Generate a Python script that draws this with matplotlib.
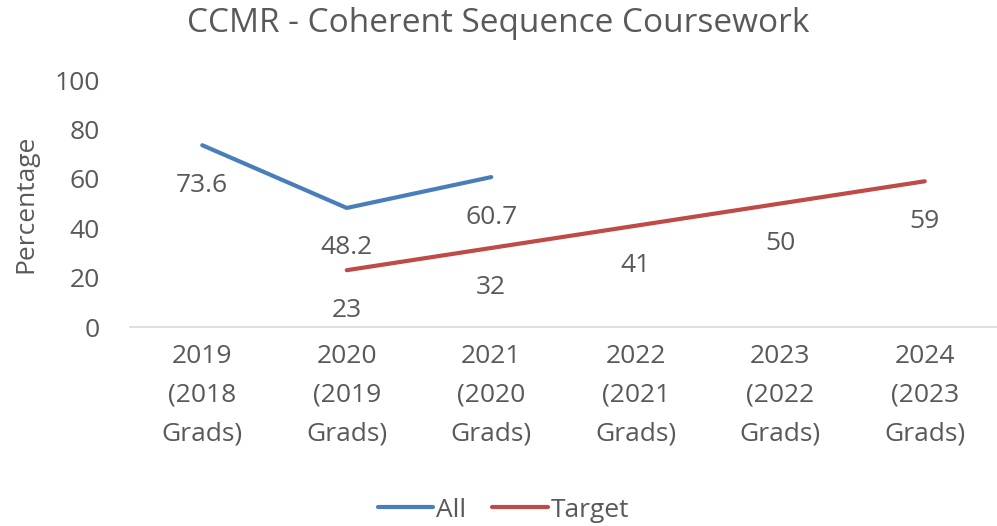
import matplotlib
matplotlib.use("Agg")
import matplotlib.pyplot as plt

plt.rcParams['font.family'] = ['Open Sans', 'DejaVu Sans']

categories = ["2019\n(2018\nGrads)", "2020\n(2019\nGrads)", "2021\n(2020\nGrads)",
              "2022\n(2021\nGrads)", "2023\n(2022\nGrads)", "2024\n(2023\nGrads)"]
all_vals = [73.6, 48.2, 60.7]
target_vals = [23, 32, 41, 50, 59]
all_x = [0, 1, 2]
target_x = [1, 2, 3, 4, 5]

txt = "#595959"
blue = "#4a7ebb"
red = "#be4b48"
fs = 19

fig = plt.figure(figsize=(9.97, 5.26), dpi=100)
ax = fig.add_axes([0.1304, 0.3783, 0.8696, 0.4696])

ax.plot(all_x, all_vals, color=blue, lw=3, solid_capstyle="round", label="All")
ax.plot(target_x, target_vals, color=red, lw=3, solid_capstyle="round", label="Target")

# data labels 40 px below each point
for xs, vals in [(all_x, all_vals), (target_x, target_vals)]:
    for x, v in zip(xs, vals):
        ax.annotate(f"{v:g}", (x, v), xytext=(0, -40 * 0.72), textcoords="offset points",
                    ha="center", va="center", fontsize=fs, color=txt)

ax.set_xlim(-0.5, 5.5)
ax.set_ylim(0, 100)
ax.set_yticks([0, 20, 40, 60, 80, 100])
ax.set_xticks(range(6))
ax.set_xticklabels(categories, linespacing=1.72)
ax.tick_params(axis="both", length=0, labelsize=fs, colors=txt)
ax.tick_params(axis="x", pad=12)
ax.tick_params(axis="y", pad=21.6)
for s in ["top", "right", "left"]:
    ax.spines[s].set_visible(False)
ax.spines["bottom"].set_color("#d9d9d9")
ax.spines["bottom"].set_linewidth(1.2)

ax.set_ylabel("Percentage", fontsize=fs, color=txt, labelpad=12)
fig.text(0.5, 0.956, "CCMR - Coherent Sequence Coursework", ha="center", va="center",
         fontsize=24, color=txt)

fig.legend(loc="center", bbox_to_anchor=(0.505, 0.03), ncol=2, frameon=False,
           fontsize=fs, labelcolor=txt, handlelength=2.1, handletextpad=0.1,
           columnspacing=1.0)

fig.savefig("out.png", dpi=100)
